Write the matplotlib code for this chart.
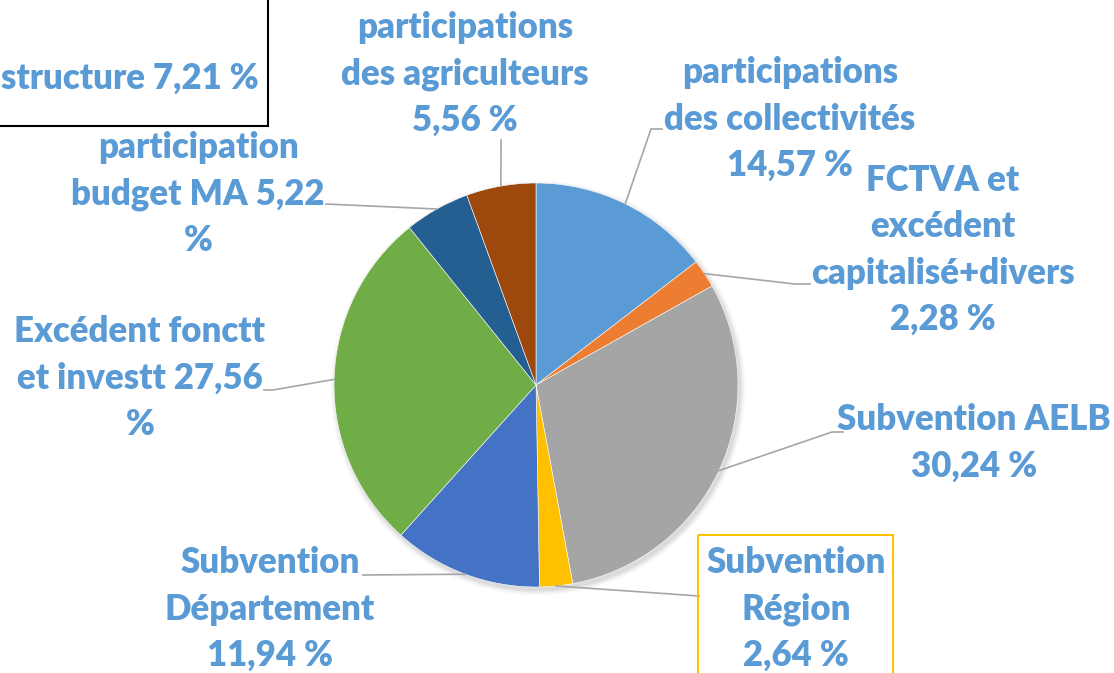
import numpy as np
import matplotlib.pyplot as plt
from matplotlib.patches import Rectangle, Circle

# Values (clockwise from top)
labels = ["participations\ndes collectivités\n14,57 %",
          "FCTVA et\nexcédent\ncapitalisé+divers\n2,28 %",
          "Subvention AELB\n30,24 %",
          "Subvention\nRégion\n2,64 %",
          "Subvention\nDépartement\n11,94 %",
          "Excédent fonctt\net investt 27,56\n%",
          "participation\nbudget MA 5,22\n%",
          "participations\ndes agriculteurs\n5,56 %"]
shares = [14.57, 2.28, 30.24, 2.64, 11.94, 27.56, 5.22, 5.56]
colors = ["#5B9BD5", "#ED7D31", "#A5A5A5", "#FFC000",
          "#4472C4", "#70AD47", "#255E91", "#9E480E"]
cut_label = "structure 7,21 %"

# layout (pixel coords, y down)
cx, cy, R = 536, 385, 202
label_xy = [(790, 119), (943, 250), (974, 443), (796, 609),
            (270, 609), (140, 378), (198, 194), (465, 74)]
# elbow / end of leader lines
leader_pts = [[(651, 129), (662, 129)],
              [(795, 284), (810, 284)],
              [(832, 432), (843, 432)],
              [(699, 596)],
              [(363, 575)],
              [(273, 390), (264, 390)],
              [(326, 204)],
              [(501, 140)]]

txt_col = "#5B9BD5"
line_col = "#A6A6A6"
font = "Lato"
fs = 25

fig = plt.figure(figsize=(11.14, 6.73), dpi=100)
ax = fig.add_axes([0, 0, 1, 1])

# soft shadow
for i, a in enumerate([0.05, 0.04, 0.03, 0.02]):
    ax.add_patch(Circle((cx + 2, cy + 3), R + 1 + i * 1.5, color="black", alpha=a, lw=0, zorder=0))

# y axis is inverted -> counterclock=True, start=-90 draws clockwise from top
wedges, _ = ax.pie(shares, colors=colors, startangle=-90, counterclock=True,
                   center=(cx, cy), radius=R, frame=True,
                   wedgeprops=dict(edgecolor="white", linewidth=0.4))
ax.set_xlim(0, 1114)
ax.set_ylim(673, 0)
ax.set_aspect("auto")
ax.axis("off")

for w, lab, (lx, ly), pts in zip(wedges, labels, label_xy, leader_pts):
    th = np.deg2rad((w.theta1 + w.theta2) / 2)
    sx, sy = cx + R * np.cos(th), cy + R * np.sin(th)
    xs = [sx] + [p[0] for p in pts]
    ys = [sy] + [p[1] for p in pts]
    ax.plot(xs, ys, color=line_col, lw=1.2, zorder=3)
    ax.text(lx, ly, lab, ha="center", va="center", color=txt_col,
            fontsize=fs, fontweight="heavy", family=font, linespacing=1.49, zorder=4)

# Région label box
ax.add_patch(Rectangle((698, 535), 195, 150, fill=False, edgecolor="#FFC000", lw=1.5, zorder=5))

# box at top left, cut by the edge
ax.add_patch(Rectangle((-20, -20), 288, 146, fill=False, edgecolor="black", lw=1.5, zorder=5))
ax.text(259, 78, cut_label, ha="right", va="center", color=txt_col,
        fontsize=fs, fontweight="heavy", family=font, zorder=4)

fig.savefig("out.png", dpi=100)
